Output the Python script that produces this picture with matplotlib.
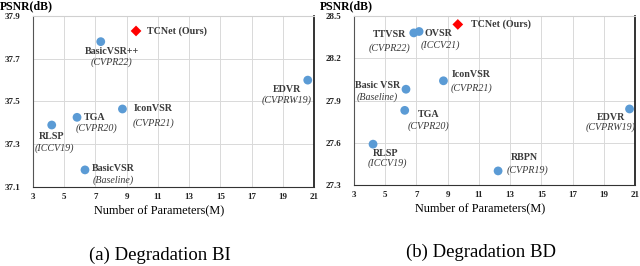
import matplotlib
matplotlib.use('Agg')
import matplotlib.pyplot as plt

plt.rcParams['font.family'] = 'Liberation Serif'

# (a) Degradation BI
bi_names = ['BasicVSR++', 'EDVR', 'IconVSR', 'TGA', 'RLSP', 'BasicVSR']
bi_venues = ['(CVPR22)', '(CVPRW19)', '(CVPR21)', '(CVPR20)', '(ICCV19)', '(Baseline)']
bi_params = [7.34, 20.6, 8.73, 5.82, 4.2, 6.33]
bi_psnr = [37.78, 37.60, 37.465, 37.426, 37.39, 37.18]
bi_ours = (9.6, 37.83)

# (b) Degradation BD
bd_names = ['TTVSR', 'OVSR', 'IconVSR', 'Basic VSR', 'TGA', 'EDVR', 'RLSP', 'RBPN']
bd_venues = ['(CVPR22)', '(ICCV21)', '(CVPR21)', '(Baseline)', '(CVPR20)', '(CVPRW19)', '(ICCV19)', '(CVPR19)']
bd_params = [6.83, 7.17, 8.73, 6.33, 6.25, 20.65, 4.22, 12.23]
bd_psnr = [28.38, 28.39, 28.04, 27.98, 27.83, 27.84, 27.59, 27.40]
bd_ours = (9.65, 28.44)

# label offsets in pixels: (name dx, name dy, venue dx, venue dy)
bi_offsets = [(11, -10, 11, -21), (-21, -9, -21, -20), (31, 0, 31, -14),
              (18, 0, 19, -10.5), (0, -11.5, 3, -23.5), (28, 1.5, 28, -10.5)]
bd_offsets = [(-24, -2, -24, -15.5), (19, -2.5, 21.5, -13.5), (28, 6.5, 28, -7),
              (-28, 3.5, -29, -8), (23.5, -4.5, 23.5, -15.5), (-19, -8.5, -19, -18.5),
              (13, -9.5, 14, -19.5), (26, 13.5, 29, 0.5)]

blue = '#5B9BD5'
txt = '#3a3a3a'

fig = plt.figure(figsize=(6.4, 2.66), dpi=100)
ax1 = fig.add_axes([33/640, 1-187/266, 281/640, 171/266])
ax2 = fig.add_axes([354/640, 1-185/266, 281/640, 169/266])


def draw(ax, names, venues, xs, ys, ours, ours_dx, offsets, ylim, yticks, caption, left_px):
    ax.scatter(xs, ys, s=40, color=blue, zorder=3, edgecolors='none')
    ax.scatter([ours[0]], [ours[1]], s=30, marker='D', color='#ff0000', zorder=3,
               edgecolors='none')
    ax.annotate('TCNet (Ours)', ours, xytext=(ours_dx, 0), textcoords='offset pixels',
                fontsize=7.2, fontweight='bold', color=txt, va='center', ha='left')
    for n, v, x, y, o in zip(names, venues, xs, ys, offsets):
        ax.annotate(n, (x, y), xytext=(o[0], o[1]), textcoords='offset pixels',
                    fontsize=7.2, fontweight='bold', color=txt, ha='center', va='center')
        ax.annotate(v, (x, y), xytext=(o[2], o[3]), textcoords='offset pixels',
                    fontsize=7.2, style='italic', color=txt, ha='center', va='center')
    ax.set_xlim(3, 21)
    ax.set_xticks(range(3, 22, 2))
    ax.set_ylim(*ylim)
    ax.set_yticks(yticks)
    ax.grid(True, color='#d9d9d9', linewidth=0.7, zorder=0)
    ax.set_axisbelow(True)
    ax.tick_params(length=0, labelsize=6.5, colors='#222222')
    ax.tick_params(axis='y', pad=9)
    ax.tick_params(axis='x', pad=4)
    for lab in ax.get_xticklabels() + ax.get_yticklabels():
        lab.set_fontweight('bold')
    ax.spines['top'].set_color('#d0d0d0')
    ax.spines['left'].set_color('#555555')
    ax.spines['bottom'].set_color('#333333')
    ax.spines['right'].set_color('#111111')
    ax.spines['right'].set_linewidth(1.2)
    ax.set_xlabel('Number of Parameters(M)', fontsize=8.8, labelpad=2)
    ax.xaxis.set_label_coords(0.448, -0.1)
    ax.xaxis.label.set_va('top')
    fig.text(left_px/640, 1-0.5/266, 'PSNR(dB)', fontsize=8.5,
             fontweight='bold', ha='left', va='top')
    ax.text(0.452, -0.4, caption, transform=ax.transAxes, fontsize=13.5,
            ha='center', va='center')


draw(ax1, bi_names, bi_venues, bi_params, bi_psnr, bi_ours, 11, bi_offsets,
     (37.1, 37.9), [37.1, 37.3, 37.5, 37.7, 37.9], '(a) Degradation BI', 0)
draw(ax2, bd_names, bd_venues, bd_params, bd_psnr, bd_ours, 13, bd_offsets,
     (27.3, 28.5), [27.3, 27.6, 27.9, 28.2, 28.5], '(b) Degradation BD', 320)

fig.savefig('out.png', dpi=100)
